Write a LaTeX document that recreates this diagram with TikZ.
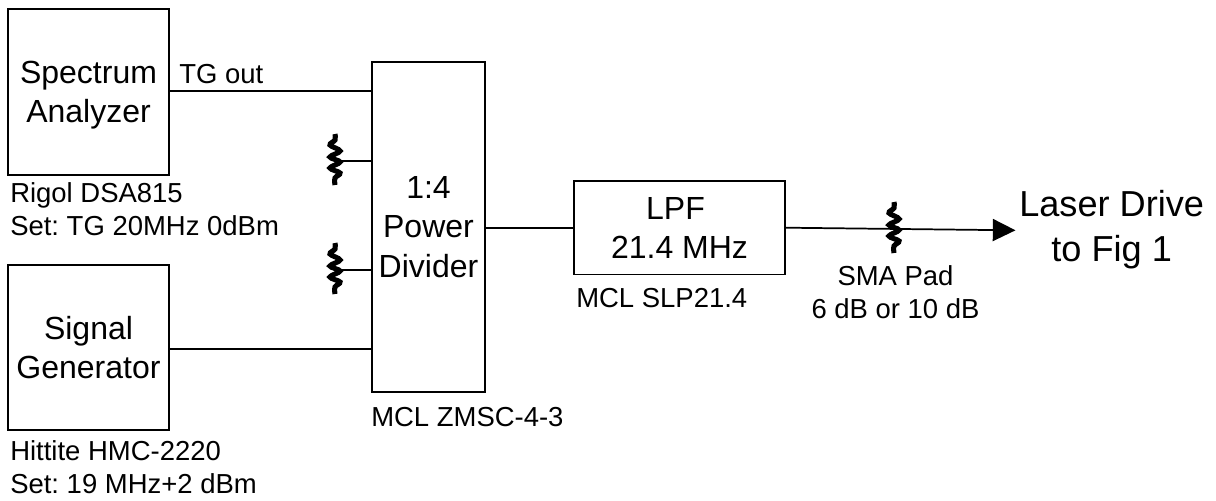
\documentclass[tikz,border=0pt]{standalone}
\usepackage{fontspec}
\setmainfont{Liberation Sans}
\usetikzlibrary{
    arrows.meta,
    positioning,
    calc
}
\frenchspacing
\tikzset{
    block/.style={
        rectangle,
        draw=black,
        line width=1.3pt,
        align=center,
        font=\fontsize{24}{29.5}\selectfont
    },
    analyzerblock/.style={
        block,
        minimum width=120.75pt,
        minimum height=124pt,
        text depth=0pt
    },
    note/.style={
        align=left,
        inner sep=0pt,
        font=\fontsize{20.6}{24.75}\selectfont
    },
    wire/.style={
        line width=1.3pt
    },
    arrow/.style={
        wire,
        -{Triangle[length=17pt,width=16.5pt]}
    },
    padcoil/.style={
        line width=3.8pt
    }
}
% attenuator symbol centred on a named coordinate
\newcommand{\padsymbol}[1]{
    \draw[padcoil, shift={(#1)}] plot[smooth, tension=0.6] coordinates {
        (0,-27) (0,-21) (-5,-16) (5,-10) (-5,-4) (5,1) (-5,7) (5,12) (0,17) (0,24)};
}

\begin{document}
\begin{tikzpicture}[x=0.75pt,y=-0.75pt]
\useasboundingbox (0,0) rectangle (1216,500);

\node[analyzerblock] (analyzer) at (88.5,92) {Spectrum\\Analyzer};
\node[analyzerblock] (generator) at (88.5,347.5) {Signal\\Generator};
\node[block, minimum width=84.75pt, minimum height=247.5pt] (divider) at (428.5,227) {1:4\\Power\\Divider};
\node[block, minimum width=158.25pt, minimum height=70pt, text depth=0pt] (lpf) at (679.5,227.7) {LPF\hspace*{6pt}\\21.4 MHz};

\coordinate (tgin) at (372,91);
\coordinate (genin) at (372,349);
\coordinate (padone) at (335,161);
\coordinate (padtwo) at (335,270);
\coordinate (padout) at (894,229);
\coordinate (laserin) at (1015.5,230.3);

\node[note, anchor=base west] (tglabel) at (179,83) {TG out};
\node[note, anchor=base west] (rigol) at (10,235) {Rigol DSA815\\Set: TG 20MHz 0dBm};
\node[note, anchor=base west] (hittite) at (10,493) {Hittite HMC-2220\\Set: 19 MHz+2 dBm};
\node[note, anchor=base west] (zmsc) at (371,426) {MCL ZMSC-4-3};
\node[note, anchor=base west] (slp) at (576,307) {MCL SLP21.4};
\node[note, align=center, anchor=base] (smapad) at (895.5,318) {SMA Pad\\6 dB or 10 dB};
\node[note, align=center, anchor=base west, font=\fontsize{27.1}{33.75}\selectfont] (laser) at (1019,261) {Laser Drive\\to Fig 1};

\draw[wire] (analyzer.east |- tgin) -- (tgin);
\draw[wire] (generator.east |- genin) -- (genin);
\draw[wire] (padone) -- (divider.west |- padone);
\draw[wire] (padtwo) -- (divider.west |- padtwo);
\draw[wire] (divider.east |- lpf.west) -- (lpf.west);
\draw[arrow] (lpf.east) -- (laserin);

\padsymbol{padone}
\padsymbol{padtwo}
\padsymbol{padout}
\end{tikzpicture}
\end{document}
